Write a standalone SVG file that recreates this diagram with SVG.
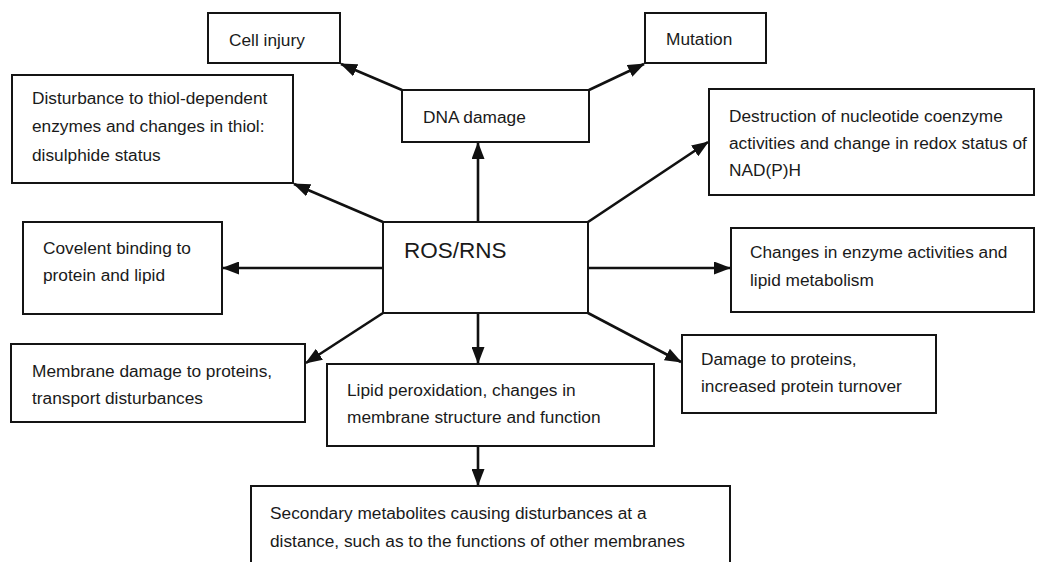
<svg xmlns="http://www.w3.org/2000/svg" width="1040" height="562" viewBox="0 0 1040 562">
<style>
  .box { fill: #ffffff; stroke: #141414; stroke-width: 2; }
  .t { font-family: "Liberation Sans", Arial, sans-serif; font-size: 17.3px; fill: #1a1a1a; }
  .big { font-family: "Liberation Sans", Arial, sans-serif; font-size: 22.5px; fill: #1a1a1a; }
  .c { stroke: #111111; stroke-width: 2.6; fill: none; marker-end: url(#ah); }
</style>
<defs>
  <marker id="ah" markerUnits="userSpaceOnUse" markerWidth="17" markerHeight="13" refX="16" refY="6.5" orient="auto">
    <path d="M0,0 L17,6.5 L0,13 z" fill="#111111"/>
  </marker>
</defs>
<rect width="1040" height="562" fill="#ffffff"/>

<g id="connectors">
  <line class="c" x1="478" y1="222" x2="478" y2="143"/>
  <line class="c" x1="402" y1="90" x2="341" y2="64"/>
  <line class="c" x1="589" y1="90" x2="644" y2="64"/>
  <line class="c" x1="383" y1="222" x2="294" y2="184"/>
  <line class="c" x1="588" y1="222" x2="708" y2="142"/>
  <line class="c" x1="383" y1="268" x2="223" y2="268"/>
  <line class="c" x1="588" y1="268" x2="730" y2="268"/>
  <line class="c" x1="383" y1="313" x2="306" y2="363"/>
  <line class="c" x1="478" y1="313" x2="478" y2="363"/>
  <line class="c" x1="588" y1="313" x2="681" y2="362"/>
  <line class="c" x1="478" y1="446" x2="478" y2="485"/>
</g>

<g id="cell-injury">
  <rect class="box" x="208" y="13" width="132" height="50"/>
  <text class="t" x="229" y="46">Cell injury</text>
</g>
<g id="mutation">
  <rect class="box" x="645" y="13" width="121" height="50"/>
  <text class="t" x="666" y="45">Mutation</text>
</g>
<g id="dna-damage">
  <rect class="box" x="402" y="90" width="187" height="52"/>
  <text class="t" x="423" y="123">DNA damage</text>
</g>
<g id="disturbance">
  <rect class="box" x="12" y="75" width="281" height="108"/>
  <text class="t" x="32" y="104">Disturbance to thiol-dependent</text>
  <text class="t" x="32" y="132">enzymes and changes in thiol:</text>
  <text class="t" x="32" y="161">disulphide status</text>
</g>
<g id="destruction">
  <rect class="box" x="709" y="89" width="325" height="106"/>
  <text class="t" x="729" y="122">Destruction of nucleotide coenzyme</text>
  <text class="t" x="729" y="149">activities and change in redox status of</text>
  <text class="t" x="729" y="176">NAD(P)H</text>
</g>
<g id="ros-rns">
  <rect class="box" x="383" y="222" width="205" height="91"/>
  <text class="big" x="404" y="258">ROS/RNS</text>
</g>
<g id="covelent">
  <rect class="box" x="23" y="222" width="199" height="92"/>
  <text class="t" x="43" y="254">Covelent binding to</text>
  <text class="t" x="43" y="281">protein and lipid</text>
</g>
<g id="changes">
  <rect class="box" x="731" y="228" width="303" height="84"/>
  <text class="t" x="750" y="258">Changes in enzyme activities and</text>
  <text class="t" x="750" y="286">lipid metabolism</text>
</g>
<g id="membrane-damage">
  <rect class="box" x="11" y="344" width="294" height="78"/>
  <text class="t" x="32" y="377">Membrane damage to proteins,</text>
  <text class="t" x="32" y="404">transport disturbances</text>
</g>
<g id="lipid-peroxidation">
  <rect class="box" x="327" y="364" width="327" height="82"/>
  <text class="t" x="347" y="396">Lipid peroxidation, changes in</text>
  <text class="t" x="347" y="423">membrane structure and function</text>
</g>
<g id="damage-proteins">
  <rect class="box" x="682" y="335" width="254" height="78"/>
  <text class="t" x="701" y="365">Damage to proteins,</text>
  <text class="t" x="701" y="392">increased protein turnover</text>
</g>
<g id="secondary">
  <rect class="box" x="251" y="486" width="479" height="90"/>
  <text class="t" x="270" y="519">Secondary metabolites causing disturbances at a</text>
  <text class="t" x="270" y="547">distance, such as to the functions of other membranes</text>
</g>
</svg>
